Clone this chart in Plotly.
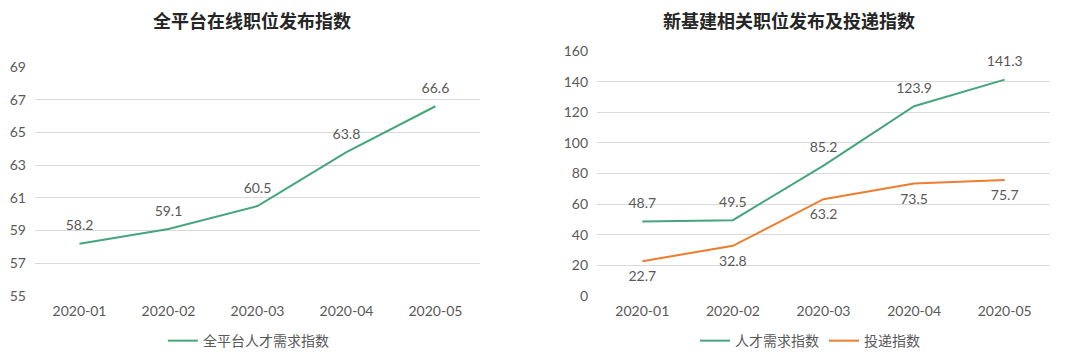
import plotly.graph_objects as go

months = ["2020-01", "2020-02", "2020-03", "2020-04", "2020-05"]
platform_index = [58.2, 59.1, 60.5, 63.8, 66.6]
demand_index = [48.7, 49.5, 85.2, 123.9, 141.3]
delivery_index = [22.7, 32.8, 63.2, 73.5, 75.7]
left_ticks = [55, 57, 59, 61, 63, 65, 67, 69]
right_ticks = [0, 20, 40, 60, 80, 100, 120, 140, 160]

GREEN = "#46a57c"
ORANGE = "#ed7d31"
GREY = "#595959"
FONT = "Lato, 'Noto Sans CJK SC', sans-serif"

def series(y, name, color, pos, xa, ya):
    return go.Scatter(
        x=months, y=y, mode="lines+markers+text", name=name, showlegend=False,
        text=[f"{v:.1f}" for v in y], textposition=pos,
        textfont=dict(size=14, color=GREY), line=dict(color=color, width=2),
        marker=dict(size=14, opacity=0, color=color),
        xaxis=xa, yaxis=ya, cliponaxis=False)

def legend_entry(name, color, xa, ya, leg):
    return go.Scatter(x=[months[0]], y=[None], mode="lines", name=name,
                      line=dict(color=color, width=2), xaxis=xa, yaxis=ya,
                      legend=leg, hoverinfo="skip")

fig = go.Figure()
fig.add_trace(series(platform_index, "全平台人才需求指数", GREEN, "top center", "x", "y"))
fig.add_trace(series(demand_index, "人才需求指数", GREEN, "top center", "x2", "y2"))
fig.add_trace(series(delivery_index, "投递指数", ORANGE, "bottom center", "x2", "y2"))
fig.add_trace(legend_entry("全平台人才需求指数", GREEN, "x", "y", "legend"))
fig.add_trace(legend_entry("人才需求指数", GREEN, "x2", "y2", "legend2"))
fig.add_trace(legend_entry("投递指数", ORANGE, "x2", "y2", "legend2"))

axis_common = dict(showline=False, zeroline=False, ticks="", automargin=False,
                   tickfont=dict(size=14, color=GREY, family=FONT))
fig.update_layout(
    width=1080, height=359,
    margin=dict(l=0, r=0, t=0, b=0, autoexpand=False),
    paper_bgcolor="white", plot_bgcolor="white",
    font=dict(family=FONT, color=GREY),
    xaxis=dict(domain=[0.0324, 0.4444], anchor="y", type="category", range=[-0.5, 4.5],
               showgrid=False, ticklabelstandoff=5, **axis_common),
    yaxis=dict(domain=[0.1755, 0.8134], anchor="x", range=[55, 69],
               tickvals=left_ticks, showgrid=True, gridcolor="#d9d9d9", gridwidth=1,
               ticklabelstandoff=8, **axis_common),
    xaxis2=dict(domain=[0.5528, 0.9722], anchor="y2", type="category", range=[-0.5, 4.5],
                showgrid=False, ticklabelstandoff=5, **axis_common),
    yaxis2=dict(domain=[0.1755, 0.8579], anchor="x2", range=[0, 160],
                tickvals=right_ticks, showgrid=True, gridcolor="#d9d9d9", gridwidth=1,
                ticklabelstandoff=8, **axis_common),
    legend=dict(orientation="h", x=0.23, y=0.05, xanchor="center", yanchor="middle",
                font=dict(size=14, color=GREY), bgcolor="rgba(0,0,0,0)", itemwidth=30),
    legend2=dict(orientation="h", x=0.75, y=0.05, xanchor="center", yanchor="middle",
                 font=dict(size=14, color=GREY), bgcolor="rgba(0,0,0,0)", itemwidth=30),
    showlegend=True,
    annotations=[
        dict(text="<b>全平台在线职位发布指数</b>", x=252/1080, y=1-20/359, xref="paper", yref="paper",
             xanchor="center", yanchor="middle", showarrow=False,
             font=dict(size=18, color="#262626", family="'Noto Sans CJK SC', sans-serif")),
        dict(text="<b>新基建相关职位发布及投递指数</b>", x=789/1080, y=1-20/359, xref="paper", yref="paper",
             xanchor="center", yanchor="middle", showarrow=False,
             font=dict(size=18, color="#262626", family="'Noto Sans CJK SC', sans-serif")),
    ],
)

fig.write_html("out.html", config={"displayModeBar": False},
               post_script="document.body.style.margin='0';document.body.style.overflow='hidden';")
